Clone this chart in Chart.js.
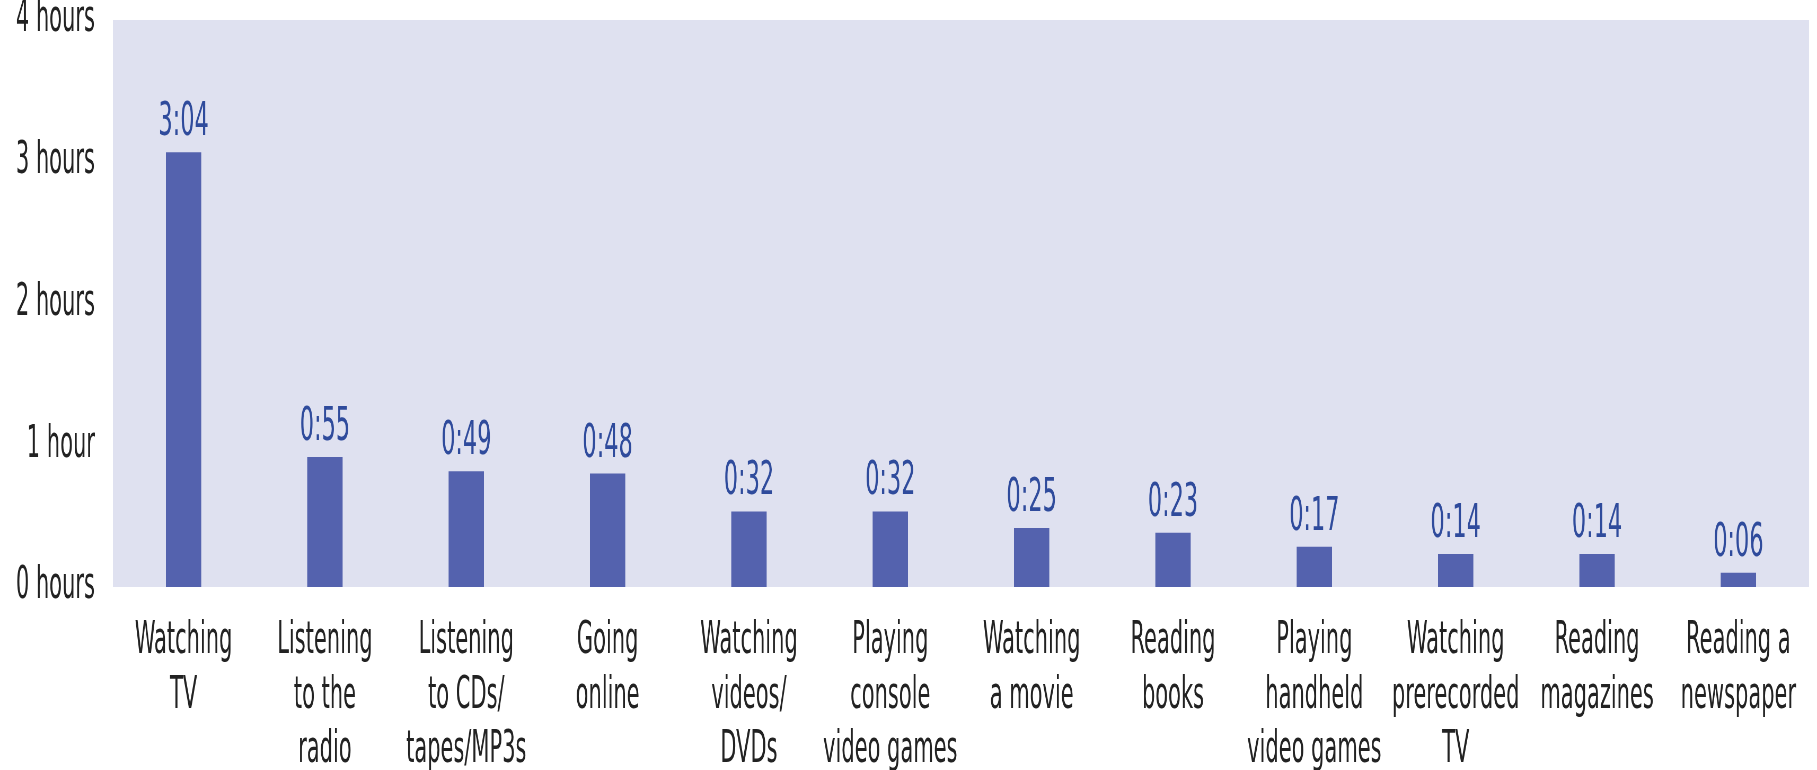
<!DOCTYPE html>
<html>
<head>
<meta charset="utf-8">
<script src="https://cdn.jsdelivr.net/npm/chart.js@4.4.1/dist/chart.umd.min.js"></script>
<style>
  html, body { margin: 0; padding: 0; background: #fff; overflow: hidden; }
</style>
</head>
<body>
<!-- canvas is drawn wider and squeezed back to 1817px, which gives the condensed lettering -->
<canvas id="chart" width="3428" height="770" style="display:block;width:1817px;height:770px"></canvas>
<script>
// Average time per day, in minutes
const categories = [
  ["Watching", "TV"],
  ["Listening", "to the", "radio"],
  ["Listening", "to CDs/", "tapes/MP3s"],
  ["Going", "online"],
  ["Watching", "videos/", "DVDs"],
  ["Playing", "console", "video games"],
  ["Watching", "a movie"],
  ["Reading", "books"],
  ["Playing", "handheld", "video games"],
  ["Watching", "prerecorded", "TV"],
  ["Reading", "magazines"],
  ["Reading a", "newspaper"]
];
const minutes = [184, 55, 49, 48, 32, 32, 25, 23, 17, 14, 14, 6];
const tickValues = [0, 60, 120, 180, 240];
const tickLabels = ["0 hours", "1 hour", "2 hours", "3 hours", "4 hours"];

const FONT = '"DejaVu Sans Condensed", "Liberation Sans", sans-serif';

function toClock(m) {
  const h = Math.floor(m / 60);
  const mm = m % 60;
  return h + ':' + (mm < 10 ? '0' + mm : mm);
}

// light lavender plot background
const plotBackground = {
  id: 'plotBackground',
  beforeDraw(chart) {
    const { ctx, chartArea: a } = chart;
    ctx.save();
    ctx.fillStyle = '#dfe1f0';
    ctx.fillRect(a.left, a.top, a.right - a.left, a.bottom - a.top);
    ctx.restore();
  }
};

// h:mm value above each bar
const valueLabels = {
  id: 'valueLabels',
  afterDatasetsDraw(chart) {
    const ctx = chart.ctx;
    const meta = chart.getDatasetMeta(0);
    ctx.save();
    ctx.font = '47px ' + FONT;
    ctx.fillStyle = '#2f4b9c';
    ctx.textAlign = 'center';
    ctx.textBaseline = 'alphabetic';
    meta.data.forEach((bar, i) => {
      ctx.fillText(toClock(minutes[i]), bar.x, bar.y - 17);
    });
    ctx.restore();
  }
};

new Chart(document.getElementById('chart'), {
  type: 'bar',
  data: {
    labels: categories,
    datasets: [{
      data: minutes,
      backgroundColor: '#5462ae',
      borderWidth: 0,
      barPercentage: 0.25,
      categoryPercentage: 1
    }]
  },
  options: {
    responsive: false,
    animation: false,
    layout: { padding: { top: 20, right: 15, left: 0, bottom: 0 } },
    plugins: {
      legend: { display: false },
      tooltip: { enabled: false }
    },
    scales: {
      x: {
        grid: { display: false, drawTicks: false },
        border: { display: false },
        ticks: {
          color: '#222',
          padding: 27,
          maxRotation: 0,
          autoSkip: false,
          font: { family: FONT, size: 44, lineHeight: 1.245 }
        },
        afterFit(scale) {
          scale.height = 183;
          scale.paddingLeft = 0;
          scale.paddingRight = 0;
        }
      },
      y: {
        min: 0,
        max: 240,
        grid: { display: false, drawTicks: false },
        border: { display: false },
        afterBuildTicks(scale) {
          scale.ticks = tickValues.map(v => ({ value: v }));
        },
        ticks: {
          color: '#222',
          padding: 34,
          font: { family: FONT, size: 44, lineHeight: 0.9 },
          callback: (v) => tickLabels[tickValues.indexOf(v)]
        },
        afterFit(scale) {
          scale.width = 213;
          scale.paddingTop = 0;
          scale.paddingBottom = 0;
        }
      }
    }
  },
  plugins: [plotBackground, valueLabels]
});
</script>
</body>
</html>
